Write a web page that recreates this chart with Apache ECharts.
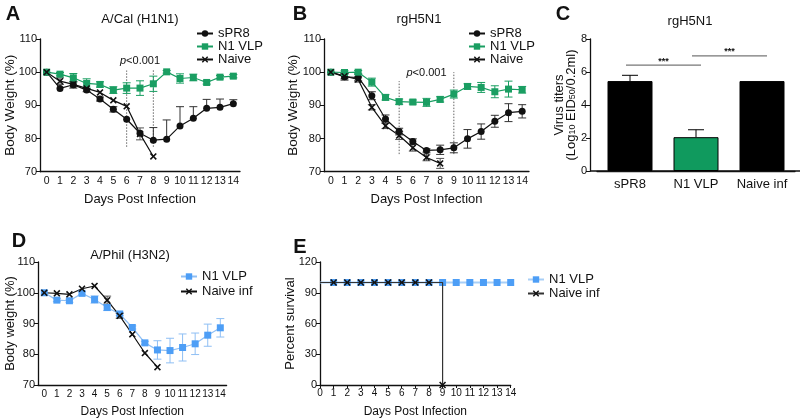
<!DOCTYPE html>
<html><head><meta charset="utf-8">
<script src="https://cdn.jsdelivr.net/npm/echarts/dist/echarts.min.js"></script>
<style>html,body{margin:0;padding:0;background:#fff}#c{width:800px;height:419px}</style>
</head><body><div id="c"></div>
<script>
// ---------- data ----------
const days = ['0','1','2','3','4','5','6','7','8','9','10','11','12','13','14'];
// Panel A  A/Cal (H1N1)
const aSPR8      = [100,95.1,96.2,94.6,91.9,88.8,85.8,81.6,79.5,79.8,83.8,86.1,89.1,89.4,90.5];
const aSPR8ErrUp = [0,0,1,0.5,0.6,0.8,0,0,3.8,5.8,5.8,3.5,2.7,2.5,1.2];
const aSPR8ErrDn = [0,0,1,0.5,0.6,0.8,0,0,0,0,0,0,0,0,0];
const aN1        = [100,99.4,98.3,96.6,96.3,94.6,95.2,95.2,96.5,100.1,98.1,98.4,96.9,98.5,98.8];
const aN1Err     = [0,0.5,1.3,1.4,0.8,1,1.6,2.2,2.3,0.4,1.4,1,0.5,0.5,0.5];
const aNaive     = [100,97.3,96.3,95.1,93.9,91.5,89.7,81.4,74.6];
const aNaiveErr  = [0,1,0,0,0,0,0,1.8,0];
const aDotted    = [[6,77.5,100.5],[8,77.5,101]];
const aPLabel    = [[7,103.4]];
// Panel B  rgH5N1
const bSPR8      = [100,98.6,98.4,92.9,85.9,82.1,79.1,76.4,76.6,77.2,79.9,82.1,85.2,87.8,88.2];
const bSPR8Err   = [0,1,1,1.2,1.2,1,0.8,0.5,1.4,1.5,2.8,2.3,1.8,2.7,2];
const bN1        = [100,99.9,100,97.0,92.4,91.1,91.0,90.9,91.8,93.4,95.7,95.4,94.1,94.9,94.7];
const bN1Err     = [0,0.5,0.5,1.2,0.8,0.8,0.6,1.2,0.8,1.2,0.8,1.5,1.8,2.4,1];
const bNaive     = [100,98.8,97.8,89.4,83.8,80.9,77.2,74.3,72.5];
const bNaiveErr  = [0,0.8,0.8,0.8,0.8,1.2,1,1,1.5];
const bDotted    = [[5,75.3,97.3],[9,75.3,100]];
const bPLabel    = [[7,99.8]];
// Panel C  rgH5N1 virus titers
const cCats      = ['sPR8','N1 VLP','Naive inf'];
const cVals      = [5.45,2.05,5.45];
const cErrUp     = [0.35,0.45,0];
const cSig       = [[0,1,6.42],[1,2,6.98]];
// Panel D  A/Phil (H3N2)
const dN1        = [100,97.6,97.4,99.8,97.8,95.2,93.1,88.7,83.7,81.4,81.2,82.2,83.4,86.2,88.6];
const dN1Err     = [0,0.5,0.5,0.5,1.2,1,0.5,0.5,0.5,3,4,4.4,3.5,3.6,3];
const dNaive     = [100,99.8,99.5,101.3,102.2,97.6,92.5,86.5,80.4,75.8];
const dNaiveErr  = [0,0,0,0,0,1.3,0.8,0,0,0];
// Panel E  survival
const eDaysN1    = [0,1,2,3,4,5,6,7,8,9,10,11,12,13,14];
const eN1        = [100,100,100,100,100,100,100,100,100,100,100,100,100,100,100];
const eDaysNaive = [0,1,2,3,4,5,6,7,8,9];
const eNaive     = [100,100,100,100,100,100,100,100,100,0];

// ---------- styles ----------
const FF = 'Liberation Sans';
const BLACK = '#111';
const GREEN = '#1a9e62';
const BLUE = '#4d9ef6';
const BLUE_L = '#8fbff4';
const XSYM = 'path://M0,1.6L1.6,0L5,3.4L8.4,0L10,1.6L6.6,5L10,8.4L8.4,10L5,6.6L1.6,10L0,8.4L3.4,5Z';

function errRender(color, cap) {
  return function (params, api) {
    const x = api.value(0), v = api.value(1), up = api.value(2), dn = api.value(3);
    const pu = api.coord([x, v + up]), pd = api.coord([x, v - dn]);
    const st = { stroke: color, lineWidth: 1 };
    const ch = [{ type: 'line', shape: { x1: pu[0], y1: pu[1], x2: pd[0], y2: pd[1] }, style: st }];
    if (up > 0) ch.push({ type: 'line', shape: { x1: pu[0] - cap, y1: pu[1], x2: pu[0] + cap, y2: pu[1] }, style: st });
    if (dn > 0) ch.push({ type: 'line', shape: { x1: pd[0] - cap, y1: pd[1], x2: pd[0] + cap, y2: pd[1] }, style: st });
    return { type: 'group', children: ch };
  };
}
function errSeries(idx, vals, up, dn, color, cap) {
  const data = vals.map((v, i) => [i, v, up[i], dn[i]]).filter(d => d[2] > 0 || d[3] > 0);
  return { type: 'custom', xAxisIndex: idx, yAxisIndex: idx, data, renderItem: errRender(color, cap || 4), z: 1, silent: true };
}
function lineSeries(name, idx, vals, color, symbol, lineColor) {
  return { type: 'line', name, xAxisIndex: idx, yAxisIndex: idx, data: vals, symbol, symbolSize: 7,
    itemStyle: { color }, lineStyle: { color: lineColor || color, width: 1.2 }, z: 3, animation: false };
}
function dottedSeries(idx, lines, labels) {
  return [{
    type: 'custom', xAxisIndex: idx, yAxisIndex: idx, data: lines, silent: true, z: 0,
    renderItem: (p, api) => {
      const a = api.coord([api.value(0), api.value(1)]), b = api.coord([api.value(0), api.value(2)]);
      return { type: 'line', shape: { x1: a[0], y1: a[1], x2: b[0], y2: b[1] }, style: { stroke: '#666', lineWidth: 1, lineDash: [1.5, 1.5] } };
    }
  }, {
    type: 'custom', xAxisIndex: idx, yAxisIndex: idx, data: labels, silent: true,
    renderItem: (p, api) => {
      const a = api.coord([api.value(0), api.value(1)]);
      return { type: 'text', x: a[0], y: a[1], style: { text: '{i|p}<0.001', align: 'center', verticalAlign: 'middle',
        fill: BLACK, font: '11px ' + FF, rich: { i: { fontStyle: 'italic', fontSize: 11, fontFamily: FF } } } };
    }
  }];
}
function catX(idx, name, gap, fs, nfs) {
  return { type: 'category', gridIndex: idx, data: days, boundaryGap: true,
    axisLine: { lineStyle: { color: BLACK, width: 1.3 } },
    axisTick: { alignWithLabel: true, length: 3, lineStyle: { color: BLACK } },
    axisLabel: { interval: 0, color: BLACK, fontSize: fs || 10.5, fontFamily: FF, margin: 4 },
    name, nameLocation: 'middle', nameGap: gap || 21, nameTextStyle: { color: BLACK, fontSize: nfs || 13, fontFamily: FF } };
}
function valY(idx, min, max, interval, name, gap, nameSize) {
  return { type: 'value', gridIndex: idx, min, max, interval, splitLine: { show: false },
    axisLine: { show: true, lineStyle: { color: BLACK, width: 1.3 } },
    axisTick: { show: true, length: 4, lineStyle: { color: BLACK } },
    axisLabel: { color: BLACK, fontSize: 11, fontFamily: FF, margin: 3 },
    nameMoveOverlap: false,
    name, nameLocation: 'middle', nameGap: gap, nameTextStyle: { color: BLACK, fontSize: nameSize || 13.5, fontFamily: FF } };
}
function legend(left, top, names, gap) {
  return { left, top, padding: 0, orient: 'vertical', data: names, itemWidth: 16, itemHeight: 8, itemGap: gap || 0,
    formatter: n => n.split('|')[1], selectedMode: false,
    textStyle: { fontSize: 13, fontFamily: FF, color: BLACK, lineHeight: 12, padding: [0, 0, 0, 0] } };
}

const chart = echarts.init(document.getElementById('c'));
const txt = (x, y, text, font, align) => ({ type: 'text', x, y, style: { text, font, fill: BLACK, align: align || 'center', verticalAlign: 'middle' } });

const option = {
  animation: false,
  grid: [
    { left: 40, top: 39, width: 200, height: 132.7 },
    { left: 324, top: 39, width: 205, height: 132.7 },
    { left: 597, top: 39, width: 198, height: 132 },
    { left: 38, top: 262, width: 188.6, height: 125 },
    { left: 320, top: 262, width: 190.7, height: 125 }
  ],
  xAxis: [
    catX(0, 'Days Post Infection'),
    catX(1, 'Days Post Infection'),
    { type: 'category', gridIndex: 2, data: cCats, boundaryGap: true,
      axisLine: { lineStyle: { color: BLACK, width: 1.3 } }, axisTick: { show: false },
      axisLabel: { interval: 0, color: BLACK, fontSize: 13, fontFamily: FF, margin: 7 } },
    catX(3, 'Days Post Infection', 21, 10, 12),
    { type: 'value', gridIndex: 4, min: 0, max: 14, interval: 1, splitLine: { show: false },
      axisLine: { lineStyle: { color: BLACK, width: 1.3 } },
      axisTick: { length: 3, lineStyle: { color: BLACK } },
      axisLabel: { color: BLACK, fontSize: 10, fontFamily: FF, margin: 3 },
      name: 'Days Post Infection', nameLocation: 'middle', nameGap: 21, nameTextStyle: { color: BLACK, fontSize: 12, fontFamily: FF } }
  ],
  yAxis: [
    valY(0, 70, 110, 10, 'Body Weight (%)', 23),
    valY(1, 70, 110, 10, 'Body Weight (%)', 24),
    Object.assign(valY(2, 0, 8, 2, '{a|Virus titers}\n{a|(Log}{s|10}{a| EID}{s|50}{a|/0.2ml)}', 13), {
      offset: 7,
      nameTextStyle: { color: BLACK, fontFamily: FF, lineHeight: 12,
        rich: { a: { fontSize: 13, fontFamily: FF, color: BLACK, lineHeight: 12 },
                s: { fontSize: 9, fontFamily: FF, color: BLACK, lineHeight: 12, verticalAlign: 'bottom', padding: [6, 0, 0, 0] } } }
    }),
    valY(3, 70, 110, 10, 'Body weight (%)', 21, 13),
    valY(4, 0, 120, 30, 'Percent survival', 23, 13)
  ],
  legend: [
    legend(196, 27, ['A|sPR8', 'A|N1 VLP', 'A|Naive']),
    legend(468, 27, ['B|sPR8', 'B|N1 VLP', 'B|Naive']),
    legend(180, 270, ['D|N1 VLP', 'D|Naive inf'], 2),
    legend(527, 273, ['E|N1 VLP', 'E|Naive inf'], 1)
  ],
  graphic: [
    txt(13, 14, 'A', 'bold 20px ' + FF),
    txt(300, 14, 'B', 'bold 20px ' + FF),
    txt(563, 14, 'C', 'bold 20px ' + FF),
    txt(19, 241, 'D', 'bold 20px ' + FF),
    txt(300, 247, 'E', 'bold 20px ' + FF),
    txt(140, 19, 'A/Cal (H1N1)', '13px ' + FF),
    txt(419, 19, 'rgH5N1', '13px ' + FF),
    txt(690, 21, 'rgH5N1', '13px ' + FF),
    txt(130, 255, 'A/Phil (H3N2)', '13px ' + FF),
    { type: 'line', shape: { x1: 590, y1: 171, x2: 800, y2: 171 }, style: { stroke: BLACK, lineWidth: 1.3 } }
  ],
  series: [
    // A
    errSeries(0, aSPR8, aSPR8ErrUp, aSPR8ErrDn, '#333'),
    errSeries(0, aN1, aN1Err, aN1Err, GREEN),
    errSeries(0, aNaive, aNaiveErr, aNaiveErr, '#555'),
    ...dottedSeries(0, aDotted, aPLabel),
    lineSeries('A|sPR8', 0, aSPR8, BLACK, 'circle'),
    lineSeries('A|N1 VLP', 0, aN1, GREEN, 'rect'),
    lineSeries('A|Naive', 0, aNaive, BLACK, XSYM),
    // B
    errSeries(1, bSPR8, bSPR8Err, bSPR8Err, '#333'),
    errSeries(1, bN1, bN1Err, bN1Err, GREEN),
    errSeries(1, bNaive, bNaiveErr, bNaiveErr, '#555'),
    ...dottedSeries(1, bDotted, bPLabel),
    lineSeries('B|sPR8', 1, bSPR8, BLACK, 'circle'),
    lineSeries('B|N1 VLP', 1, bN1, GREEN, 'rect'),
    lineSeries('B|Naive', 1, bNaive, BLACK, XSYM),
    // C
    { type: 'bar', xAxisIndex: 2, yAxisIndex: 2, barWidth: 45, z: 2,
      data: cVals.map((v, i) => ({ value: v, itemStyle: { color: i === 1 ? '#109a5e' : '#000', borderColor: '#000', borderWidth: 1 } })) },
    errSeries(2, cVals, cErrUp, [0, 0, 0], '#000', 8),
    { type: 'custom', xAxisIndex: 2, yAxisIndex: 2, data: cSig, silent: true,
      renderItem: (p, api) => {
        const a = api.coord([api.value(0), api.value(2)]), b = api.coord([api.value(1), api.value(2)]);
        const x1 = a[0] - 4, x2 = b[0] + 5;
        return { type: 'group', children: [
          { type: 'line', shape: { x1, y1: a[1], x2, y2: a[1] }, style: { stroke: '#777', lineWidth: 1.2 } },
          { type: 'text', x: (x1 + x2) / 2, y: a[1] - 4, style: { text: '***', align: 'center', verticalAlign: 'middle', fill: BLACK, font: 'bold 9px ' + FF } }
        ] };
      } },
    // D
    errSeries(3, dN1, dN1Err, dN1Err, BLUE_L),
    errSeries(3, dNaive, dNaiveErr, dNaiveErr, '#555'),
    lineSeries('D|N1 VLP', 3, dN1, BLUE, 'rect', BLUE_L),
    lineSeries('D|Naive inf', 3, dNaive, BLACK, XSYM),
    // E
    { type: 'line', name: 'E|N1 VLP', xAxisIndex: 4, yAxisIndex: 4, z: 2, symbol: 'rect', symbolSize: 7,
      data: eDaysN1.map((d, i) => ({ value: [d, eN1[i]], symbolSize: i === 0 ? 0 : 7 })),
      itemStyle: { color: BLUE }, lineStyle: { color: '#a8cff7', width: 2 } },
    { type: 'line', name: 'E|Naive inf', xAxisIndex: 4, yAxisIndex: 4, z: 3, symbol: XSYM, symbolSize: 7, step: 'end',
      data: eDaysNaive.map((d, i) => ({ value: [d, eNaive[i]], symbolSize: i === 0 ? 0 : 7 })),
      itemStyle: { color: BLACK }, lineStyle: { color: '#333', width: 1.2 } }
  ]
};
chart.setOption(option);
</script>
</body></html>
